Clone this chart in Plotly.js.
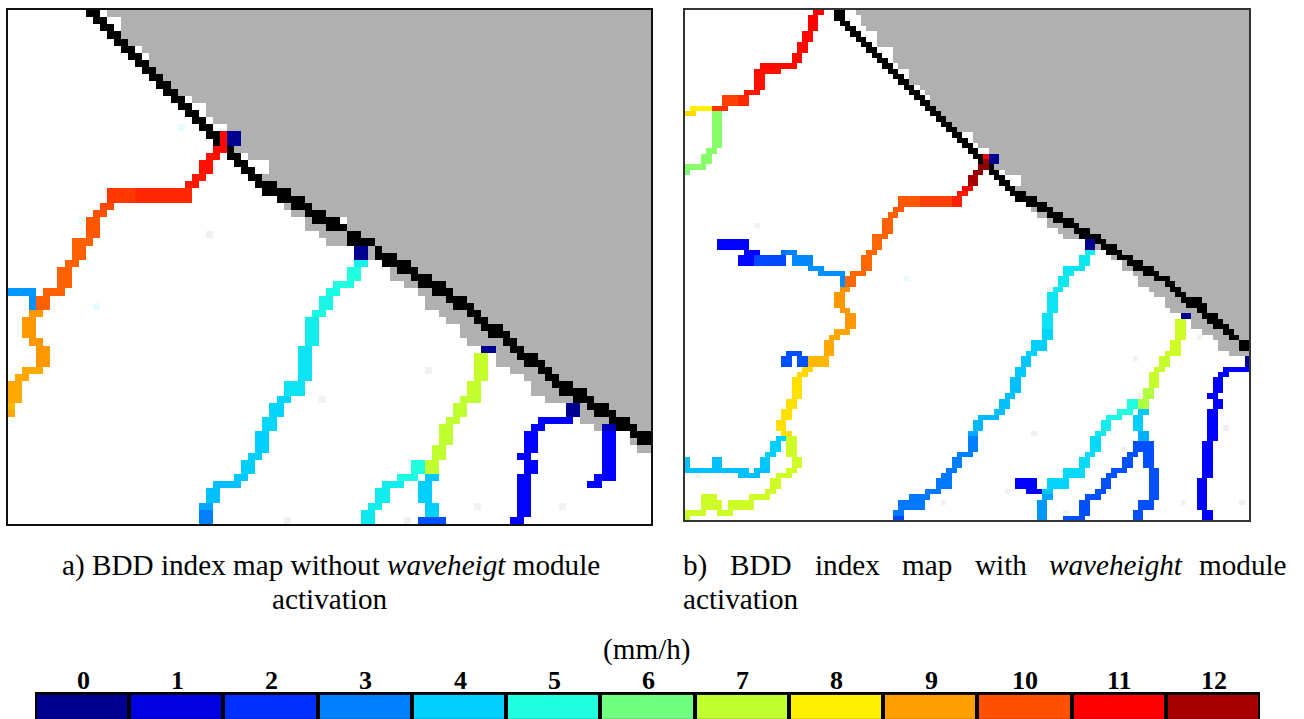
<!DOCTYPE html>
<html><head><meta charset="utf-8">
<script src="https://cdn.plot.ly/plotly-3.0.1.min.js"></script>
<style>html,body{margin:0;padding:0;background:#fff;overflow:hidden}#c{width:1304px;height:719px}</style>
</head><body><div id="c"></div>
<script>
// Legend
const legendValues = [0,1,2,3,4,5,6,7,8,9,10,11,12];
const legendColors = ['#000090','#0000e0','#0030ff','#0080ff','#00d0ff','#20ffe0','#70ff80','#c0ff30','#fff000','#ffa000','#ff5000','#ff0000','#a80000','#780000'];

// Coast rows: [first black column, last black column, first grey column], index = map row
const leftCoast = [[11,12,14],[12,13,16],[13,14,16],[14,15,16],[15,16,17],[16,17,19],[17,18,20],[18,19,20],[19,20,21],[20,21,22],[21,22,23],[22,23,24],[23,24,26],[24,25,28],[25,26,28],[26,27,29],[27,28,31],[28,29,33],[29,29,33],[31,31,32],[31,32,34],[32,33,37],[33,34,37],[34,35,36],[35,37,38],[36,39,40],[38,41,42],[40,42,39],[42,44,40],[43,46,42],[45,47,42],[48,49,44],[48,51,45],[52,52,51],[52,54,51],[53,56,57],[55,57,54],[57,59,54],[58,61,56],[60,62,58],[62,64,59],[63,65,59],[65,66,61],[66,67,62],[67,69,64],[68,70,64],[70,71,65],[71,72,69],[72,74,69],[73,75,69],[75,76,71],[76,77,73],[77,79,74],[78,81,74],[80,82,76],[82,84,81],[83,85,81],[85,87,81],[86,88,83],[88,90,91],[89,90,88],[null,null,89]];
const rightCoast = [[28,29,32],[28,29,33],[29,30,33],[30,31,34],[31,32,36],[32,33,36],[33,34,36],[34,35,39],[35,36,39],[36,37,39],[37,38,40],[38,39,42],[39,40,42],[40,41,42],[41,42,44],[42,43,45],[43,44,46],[44,45,46],[45,46,47],[46,47,48],[47,48,49],[48,49,50],[49,50,51],[50,51,54],[51,52,54],[52,53,55],[53,54,57],[54,55,59],[55,55,59],[57,57,58],[57,58,60],[58,59,63],[59,60,63],[60,61,62],[61,63,64],[62,65,66],[64,67,68],[66,68,65],[68,70,66],[69,72,68],[71,73,68],[73,75,70],[74,77,71],[77,78,79],[78,80,77],[79,81,82],[81,83,80],[83,85,82],[84,87,82],[86,88,84],[88,90,85],[90,91,85],[91,92,87],[92,93,88],[93,96,90],[94,97,90],[96,97,91],[97,99,95],[98,100,95],[99,101,95],[101,102,97],[102,103,99],[104,105,100],[104,105,100],[null,null,102]];

// Isolated cells: [row, column, code] 0 white, 3 pale grey, 4 pale cyan
const leftSpecks = [[29,47,0],[16,24,4],[29,10,4],[31,28,3],[41,12,4],[54,44,3],[71,39,3],[50,59,3],[69,66,3],[69,78,3],[71,56,3]];
const rightSpecks = [[40,13,3],[19,7,4],[50,41,4],[87,2,3],[92,48,3],[52,68,3],[65,84,3],[61,96,3],[72,85,3],[79,65,3],[78,101,3],[82,82,3],[90,60,3],[94,71,3],[92,93,3],[92,104,3]];

// BDD index runs: [value, first row, last row, first column, last column]
const leftMainRiver = [[0,17,18,31,32],[10.9,17,18,30,30],[10.9,19,19,29,30],[10.8,20,20,28,29],[10.8,21,22,27,28],[10.7,23,23,26,27],[10.7,24,24,25,26],[10.3,25,26,14,17],[10.5,25,26,18,25],[10.1,27,27,13,14],[10,28,28,12,13],[9.9,29,31,11,12],[9.8,32,32,9,11],[9.8,33,34,9,10],[9.8,35,35,8,9],[9.8,36,38,7,8],[9.8,39,39,5,7],[9.8,40,41,4,5],[3.3,39,39,0,3],[3.2,40,41,3,3],[9.1,42,42,3,4],[9.1,43,45,2,3],[9.1,46,46,3,4],[9.1,47,49,4,5],[8.9,50,50,2,4],[8.9,51,51,1,2],[8.9,52,54,0,1],[8.7,55,55,0,0],[8.9,56,56,0,0]];
const leftCyanRiver = [[0,33,34,49,50],[4.7,35,35,49,50],[5,36,37,48,49],[5,38,38,46,48],[4.9,39,39,45,46],[4.8,40,41,44,45],[4.9,42,42,43,44],[4.6,43,46,42,43],[4.4,47,51,41,42],[4.4,52,53,39,41],[4.1,54,54,38,39],[4.1,55,56,37,38],[4.1,57,58,36,37],[4,59,61,35,36],[4,62,62,34,35],[4,63,64,33,34],[3.9,65,65,32,33],[3.8,66,66,29,32],[3.8,67,68,28,29],[3.5,69,69,27,28],[3,70,71,27,28]];
const leftGreenRiver = [[0,47,47,67,68],[7.1,48,51,66,67],[7.1,52,53,65,66],[7,54,54,64,66],[7,55,56,63,64],[7,57,57,62,63],[7,58,60,61,62],[7,61,62,60,61],[7,63,64,59,60],[5,63,64,57,58],[4.9,65,65,55,57],[4.6,66,66,53,55],[4.6,67,68,52,53],[4.6,69,69,51,52],[4.5,70,71,50,51],[3.9,65,65,59,60],[4,66,68,58,59],[4,69,70,59,60],[2.4,71,71,58,61]];
const leftBlueRivers = [[0,55,56,79,80],[1.3,57,57,75,79],[1.3,58,58,74,75],[1.3,59,61,73,74],[1.3,62,62,72,73],[1.3,63,64,73,74],[1.3,65,70,72,73],[1.3,71,71,71,72],[0.5,58,58,84,85],[1.3,59,64,84,85],[1.3,65,65,83,85],[1.3,66,66,82,83]];

const rightTopRiver = [[11,0,0,24,25],[11,1,3,23,24],[10.9,4,5,22,23],[10.9,6,7,21,22],[10.9,8,9,20,21],[10.9,10,10,14,20],[10.8,11,11,13,17],[10.8,12,14,13,14],[10.7,15,15,11,13],[10.2,16,17,7,9],[10.5,16,17,10,11],[10.4,18,18,5,7],[8,18,18,1,4],[8.3,19,19,0,1],[6.3,19,25,5,6],[6.3,26,26,4,5],[6.3,27,28,3,4],[6.3,29,29,0,3],[6.1,30,30,0,0]];
const rightMainRiver = [[0,27,28,57,58],[11,27,27,56,56],[12.3,28,28,56,56],[12.6,29,29,55,56],[12.5,30,30,54,55],[12,31,32,53,54],[11,33,33,52,53],[10.7,34,34,51,52],[9.9,35,36,40,43],[10.2,35,36,44,49],[10.6,35,36,50,51],[9.9,37,37,39,40],[9.8,38,38,38,39],[9.8,39,41,37,38],[9.7,42,42,35,37],[9.7,43,44,35,36],[9.7,45,45,34,35],[9.7,46,48,33,34],[9.7,49,49,31,33],[9.7,50,51,30,31],[9.2,52,52,29,30],[9.1,53,55,28,29],[9.1,56,56,29,30],[9.1,57,59,30,31],[8.9,60,60,28,30],[8.9,61,61,27,28],[8.9,62,64,26,27],[8.7,65,66,23,26],[8.3,67,67,22,23],[8.3,68,68,21,22],[8.2,69,72,20,21],[8.2,73,74,19,20],[8.2,75,76,18,19],[8.2,77,78,17,18],[8.2,79,79,18,19]];
const rightBlueBranch = [[1.3,43,44,6,11],[1.3,45,45,11,13],[2.8,45,45,18,18],[3,45,45,19,20],[1.4,46,47,10,12],[2.3,46,47,13,18],[3.1,46,47,20,23],[3.2,48,48,23,25],[3.2,49,49,25,29],[3.2,50,51,29,29],[2.4,64,64,19,21],[2.4,65,66,18,19],[2.4,65,66,21,22]];
const rightLowerWest = [[4,80,80,17,18],[4,81,82,16,17],[4,83,83,15,16],[3.9,84,85,14,15],[3.8,84,85,0,0],[3.8,84,85,5,6],[3.8,86,86,0,11],[3.8,86,86,13,15],[3.8,87,87,10,13],[7.2,80,82,19,20],[7.2,83,83,19,20],[7.2,84,85,20,21],[7.2,86,86,19,20],[7.2,87,87,17,19],[7.2,88,89,16,17],[7.2,90,90,15,16],[7.2,91,91,12,15],[7.2,91,91,3,5],[7.2,92,93,3,6],[7.2,92,93,8,12],[7.2,94,94,0,3],[7.2,94,94,6,8],[7,95,95,0,0]];
const rightCyanRiver = [[0,43,44,75,76],[4.6,45,45,75,76],[4.5,46,47,74,75],[4.4,48,48,71,74],[4.5,49,49,71,72],[4.5,50,51,70,71],[4.5,52,52,69,70],[4.4,53,56,68,69],[4.4,57,59,67,68],[4.1,60,61,67,68],[4,62,63,65,67],[4,64,64,64,65],[3.9,65,66,63,64],[3.9,67,68,62,63],[3.8,69,71,61,62],[3.8,72,72,60,61],[3.8,73,74,59,60],[3.8,75,75,58,59],[3.7,76,76,55,58],[3.7,77,78,54,55],[3.5,79,79,53,54],[3,80,82,53,54],[3,83,83,51,53],[3,84,85,50,51],[2.9,86,86,49,50],[2.9,87,87,48,49],[2.9,88,89,47,49],[2.9,90,90,45,47],[2.9,91,91,42,45],[2.9,92,93,40,44],[2.9,94,94,39,40],[2.3,95,95,39,40]];
const rightGreenRiver = [[0,57,57,93,94],[7.2,58,61,92,93],[7.2,62,63,91,92],[7.2,64,64,90,92],[7.1,65,66,89,90],[7.1,67,67,88,89],[7.1,68,70,87,88],[6.8,71,72,86,87],[6.8,73,74,85,86],[5,73,74,83,84],[5,75,75,81,83],[4.8,76,76,79,81],[4.6,77,78,78,79],[4.5,79,79,77,78],[4.2,80,82,76,77],[4.2,83,83,75,76],[4.2,84,85,74,75],[4.2,86,87,71,74],[4.1,88,89,68,71],[1.3,88,89,62,65],[1.3,90,90,64,66],[3.9,90,90,67,68],[3.5,91,91,67,68],[3.3,92,95,66,67]];
const rightBlueBasin = [[3.9,75,75,85,86],[4,76,78,84,85],[3.6,79,80,85,86],[2.4,81,82,84,87],[2.4,83,83,83,84],[2.4,83,85,86,87],[2.4,84,85,82,83],[2.4,86,86,80,82],[2.4,86,91,87,88],[2.4,87,87,79,80],[2.4,88,89,78,79],[2.4,90,90,77,78],[2.4,91,91,75,77],[2.4,92,94,74,75],[2.4,92,93,85,87],[2.4,94,95,84,85],[2.4,95,95,71,74]];
const rightEastRiver = [[0,65,66,105,105],[1.3,67,67,101,105],[1.3,68,68,100,101],[1.3,69,71,99,100],[1.3,72,72,98,99],[1.3,73,74,99,100],[1.3,75,80,98,99],[1.3,81,87,97,98],[1.3,88,93,96,97],[1.3,94,95,97,98]];

const leftRivers = [leftMainRiver,leftCyanRiver,leftGreenRiver,leftBlueRivers];
const rightRivers = [rightTopRiver,rightMainRiver,rightBlueBranch,rightLowerWest,rightCyanRiver,rightGreenRiver,rightBlueBasin,rightEastRiver];

function blank(rows,cols,fill){return Array.from({length:rows},()=>new Array(cols).fill(fill));}
function baseGrid(rows,cols,coast,specks){
  const g=blank(rows,cols,0);
  coast.forEach((row,r)=>{
    for(let c=row[2];c<cols;c++)g[r][c]=1;
    if(row[0]!==null)for(let c=row[0];c<=row[1];c++)g[r][c]=2;
  });
  specks.forEach(s=>{g[s[0]][s[1]]=s[2];});
  return g;
}
function riverGrid(rows,cols,groups){
  const g=blank(rows,cols,null);
  groups.forEach(runs=>runs.forEach(u=>{
    for(let r=u[1];r<=u[2];r++)for(let c=u[3];c<=u[4];c++)if(r<rows&&c<cols)g[r][c]=u[0];
  }));
  return g;
}
const baseScale=[[0,'#ffffff'],[0.2,'#ffffff'],[0.2,'#b0b0b0'],[0.4,'#b0b0b0'],[0.4,'#000000'],[0.6,'#000000'],[0.6,'#f0f1f0'],[0.8,'#f0f1f0'],[0.8,'#e6fdfd'],[1,'#e6fdfd']];
const bddStops=legendColors.map((col,i)=>[i/(legendColors.length-1),col]);
const bddScale=[bddStops[0],bddStops[1],[1.3/13,'#0000ff'],...bddStops.slice(2)];
function layerPair(rows,cols,coast,specks,groups,xa,ya){
  const b={type:'heatmap',z:baseGrid(rows,cols,coast,specks),x0:0.5,dx:1,y0:0.5,dy:1,zmin:-0.5,zmax:4.5,colorscale:baseScale,showscale:false,hoverinfo:'skip',xaxis:xa,yaxis:ya};
  const t={type:'heatmap',z:riverGrid(rows,cols,groups),x0:0.5,dx:1,y0:0.5,dy:1,zmin:0,zmax:13,colorscale:bddScale,showscale:false,xaxis:xa,yaxis:ya,hoverongaps:false};
  return [b,t];
}
const W=1304,H=719,px=x=>x/W,py=y=>1-y/H;
const serif='"Liberation Serif","Times New Roman",serif';
const data=[
  ...layerPair(72,91,leftCoast,leftSpecks,leftRivers,'x','y'),
  ...layerPair(96,106,rightCoast,rightSpecks,rightRivers,'x2','y2'),
  {type:'heatmap',z:[legendValues],x:legendValues,y:[0],zmin:0,zmax:13,colorscale:bddScale,showscale:false,xgap:4,xaxis:'x3',yaxis:'y3',hoverinfo:'x'}
];
const hidden={showgrid:false,zeroline:false,showticklabels:false,ticks:'',mirror:true,showline:true,constrain:false,fixedrange:true};
const cap=(text,x,y,anchor)=>({xref:'paper',yref:'paper',x:px(x),y:py(y),xanchor:anchor||'left',yanchor:'middle',showarrow:false,text:text,font:{family:serif,size:29.2,color:'#000'}});
const legendLabels=legendValues.map(v=>({xref:'x3',yref:'paper',x:v,y:py(680),xshift:1,xanchor:'center',yanchor:'middle',showarrow:false,text:String(v),borderpad:0,font:{family:serif,size:26,color:'#000',weight:'bold'}}));
const layout={
  width:W,height:H,margin:{l:0,r:0,t:0,b:0},paper_bgcolor:'#fff',plot_bgcolor:'#fff',showlegend:false,
  xaxis:{...hidden,domain:[px(8),px(651)],range:[0,91],anchor:'y',linecolor:'#111',linewidth:2},
  yaxis:{...hidden,domain:[py(524),py(10)],range:[72,0],anchor:'x',linecolor:'#111',linewidth:2},
  xaxis2:{...hidden,domain:[px(685),px(1249)],range:[0,105.75],anchor:'y2',linecolor:'#333',linewidth:1.5},
  yaxis2:{...hidden,domain:[py(520),py(10)],range:[95.8,0],anchor:'x2',linecolor:'#333',linewidth:1.5},
  xaxis3:{domain:[px(35),px(1260)],range:[-0.5,12.5],anchor:'y3',side:'top',showticklabels:false,ticks:'',showgrid:false,zeroline:false,showline:false,fixedrange:true},
  yaxis3:{domain:[0,py(692)],range:[-0.5,0.62],anchor:'x3',showticklabels:false,ticks:'',showgrid:false,zeroline:false,showline:false,fixedrange:true},
  shapes:[{type:'rect',xref:'x3',yref:'y3',x0:-0.5,x1:12.5,y0:-0.5,y1:0.62,fillcolor:'#000',line:{width:0},layer:'below'}],
  annotations:[
    cap('a) BDD index map without <i>waveheigt</i> module',330.5,565,'center'),
    cap('activation',329,599,'center'),
    cap('b)',681,565),cap('BDD',728,565),cap('index',813,565),cap('map',900,565),cap('with',973,565),cap('<i>waveheight</i>',1047,565),cap('module',1289,565,'right'),
    cap('activation',681,599),
    cap('(mm/h)',647,649,'center'),
    ...legendLabels
  ]
};
Plotly.newPlot('c',data,layout,{displayModeBar:false,staticPlot:false,responsive:false});
</script></body></html>
